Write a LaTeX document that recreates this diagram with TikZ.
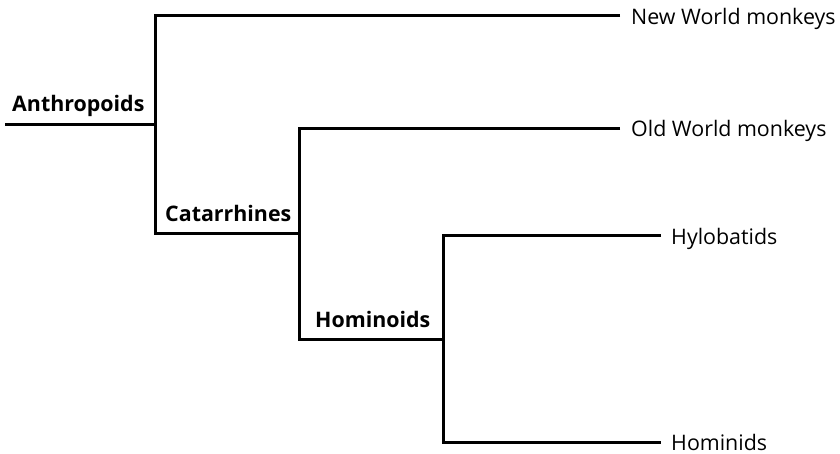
\documentclass[tikz,border=0pt]{standalone}
\usepackage{fontspec}
\setmainfont{Open Sans}
\begin{document}
\begin{tikzpicture}[x=1pt,y=-1pt,
  br/.style={line width=3pt,line cap=butt,line join=miter},
  leaf/.style={anchor=base west,inner sep=0pt,font=\fontsize{21.4}{24}\selectfont},
  clade/.style={anchor=base west,inner sep=0pt,font=\bfseries\fontsize{21.4}{24}\selectfont}]
\useasboundingbox (0,0) rectangle (840,454);
% junctions
\coordinate (root) at (5,125);
\coordinate (a) at (155,125);
\coordinate (aT) at (155,16);
\coordinate (aB) at (155,234);
\coordinate (c) at (299,234);
\coordinate (cT) at (299,129);
\coordinate (cB) at (299,339);
\coordinate (h) at (443,339);
\coordinate (hT) at (443,236);
\coordinate (hB) at (443,442);
\coordinate (e1) at (620,16);
\coordinate (e2) at (620,129);
\coordinate (e3) at (661,236);
\coordinate (e4) at (661,442);
% leaves
\node[leaf] (nw) at (631,24.5) {New World monkeys};
\node[leaf] (ow) at (631,137) {Old World monkeys};
\node[leaf] (hy) at (671,245) {Hylobatids};
\node[leaf] (hd) at (671,450) {Hominids};
% clade labels
\node[clade] (lA) at (12,112) {Anthropoids};
\node[clade] (lC) at (165,222) {Catarrhines};
\node[clade] (lH) at (315,327) {Hominoids};
% branches
\draw[br] (root) -- (a);
\draw[br] (e1) -- (aT) -- (aB) -- (c);
\draw[br] (e2) -- (cT) -- (cB) -- (h);
\draw[br] (e3) -- (hT) -- (hB) -- (e4);
\end{tikzpicture}
\end{document}
